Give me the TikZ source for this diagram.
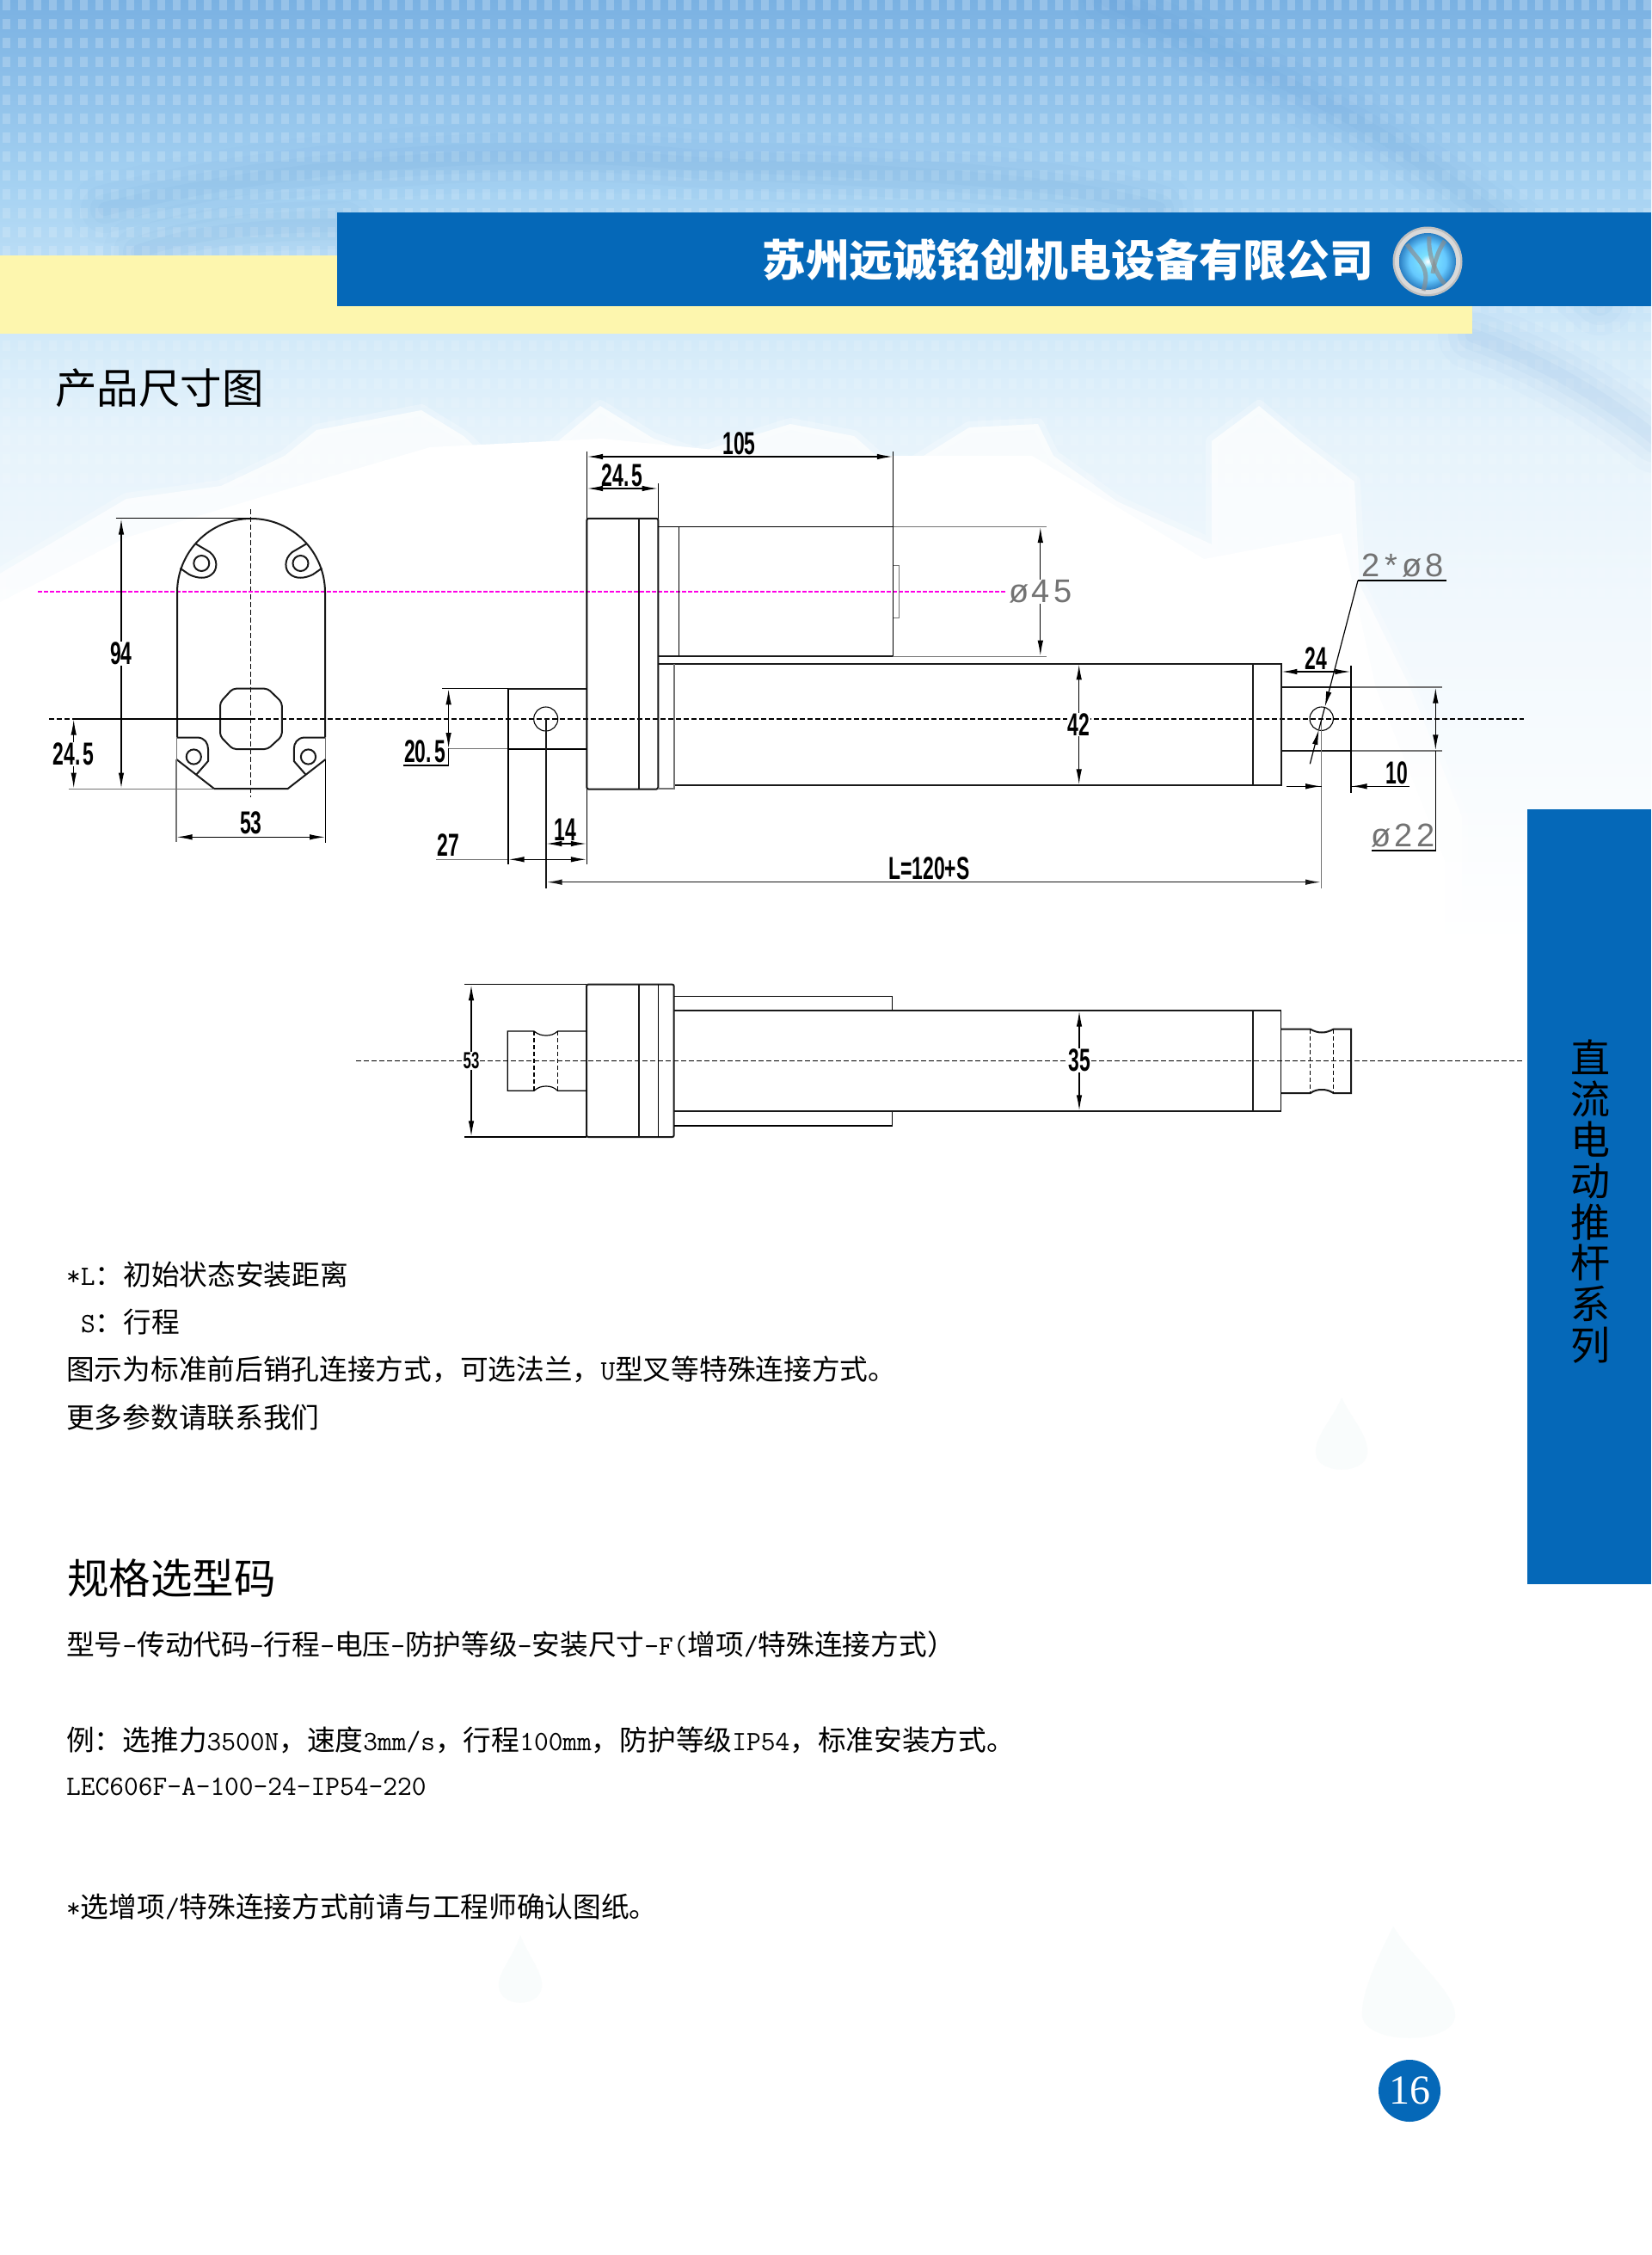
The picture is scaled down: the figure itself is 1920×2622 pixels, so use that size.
\documentclass[tikz,border=0pt]{standalone}
\usepackage{fontspec}
\usepackage{graphicx}
\usetikzlibrary{arrows.meta}
\setmainfont{Noto Sans CJK SC}
\newfontfamily\dimfont{Liberation Sans}
\newfontfamily\thinfont{Liberation Sans}
\newfontfamily\numfont{Liberation Serif}
\definecolor{bar}{HTML}{0568B8}
\definecolor{sun}{HTML}{FDF6AE}
\definecolor{skyA}{HTML}{7AB1E2}
\definecolor{skyB}{HTML}{A6D2F2}
\definecolor{skyC}{HTML}{D3EAF9}
\definecolor{skyD}{HTML}{E6F3FB}
\definecolor{skyE}{HTML}{F1F8FD}
\definecolor{swoosh}{HTML}{4F90D2}
\definecolor{dropc}{HTML}{F9FCFC}
\definecolor{magline}{HTML}{FF00E6}
\pgfdeclareverticalshading{skyfade}{100bp}{color(0bp)=(white); color(25bp)=(white); color(43bp)=(skyE); color(52bp)=(skyD); color(57bp)=(skyC); color(65bp)=(skyB); color(75bp)=(skyA); color(100bp)=(skyA)}
\pgfdeclareradialshading{logoglow}{\pgfpoint{0bp}{0bp}}{color(0bp)=(white); color(6bp)=(white!80!blue!60!cyan); color(16bp)=(blue!35!cyan!60!white); color(25bp)=(bar!85!white); color(50bp)=(bar)}
% text helpers
\newcommand\bodysz{\fontsize{32.7}{38}\selectfont}
\newcommand\hw[1]{{\fontsize{32.5}{38}\ttfamily\selectfont #1}}
\newcommand\dt[2][37]{\scalebox{.62}[1]{\fontsize{#1}{#1}\dimfont\bfseries\selectfont #2}}
\newcommand\cad[1]{{\fontsize{38}{38}\thinfont\selectfont #1}}
% mirrored details of the plate
\newcommand\topboss{\draw[outl] (227,632) -- (244,642) .. controls (254,650) and (253,663) .. (246,668) .. controls (240,673) and (230,673) .. (220,668) -- (209.4,660.7);
 \draw[outl] (234.3,655) circle (9);}
\newcommand\lowboss{\draw[outl] (206,857.5) -- (230,857.5) .. controls (238,858) and (242,864) .. (242,871) -- (242,885) -- (228,901);
 \draw[outl] (225.3,880) circle (8.6);}
\tikzset{
 x=1pt,y=-1pt,
 >={Latex[length=18pt,width=6.5pt]},
 outl/.style={line width=2pt,black!90},
 fine/.style={line width=1.2pt,black},
 faint/.style={line width=1.1pt,black!55},
 centre/.style={line width=1.1pt,black,dash pattern=on 6pt off 3pt},
 dimline/.style={line width=1.2pt,black},
 bodytext/.style={anchor=west,inner sep=0pt,font=\bodysz},
 dimlabel/.style={inner sep=1pt,fill=white},
 headtext/.style={anchor=west,inner sep=0pt,font=\fontsize{48.5}{52}\selectfont},
 drop/.style={fill=dropc}
}
\begin{document}
\begin{tikzpicture}
\useasboundingbox (0,0) rectangle (1920,2622);
\clip (0,0) rectangle (1920,2622);
% ---- background
\fill[white] (0,0) rectangle (1920,2622);
\shade[shading=skyfade] (0,0) rectangle (1920,1100);
\foreach \r in {0,...,31}{
  \pgfmathsetmacro\op{max(0.05,0.22-0.005*\r)}
  \draw[white,opacity=\op,line width=12pt,dash pattern=on 9pt off 9pt]
     (2.5,{6+22*\r}) -- (1920,{6+22*\r});
}
\foreach \w/\o in {80/.025,56/.035,34/.045,16/.05}{
  \draw[swoosh,opacity=\o,line width=\w pt,line cap=round]
    (122,243) .. controls (330,190) and (600,170) .. (800,190) .. controls (1000,200) and (1230,205) .. (1348,243);
  \draw[swoosh,opacity=\o,line width=\w pt,line cap=round]
    (160,293) .. controls (220,270) and (300,262) .. (400,262);
  \draw[swoosh,opacity=\o,line width=\w pt,line cap=round]
    (1287,0) .. controls (1370,40) and (1500,90) .. (1630,173) .. controls (1700,220) and (1780,280) .. (1860,350);
  \draw[swoosh,opacity=\o,line width=\w pt,line cap=round]
    (1712,390) .. controls (1770,410) and (1850,450) .. (1925,510);
}
% white mountains
\path[fill=white,opacity=.72,draw=white,draw opacity=.25,line width=14pt,line join=round]
 (0,667) -- (147,580) -- (257,565) -- (331,530) -- (368,500) -- (490,477) -- (539,507) -- (588,553) -- (637,523) -- (698,472) -- (760,510) -- (809,527) -- (919,493) -- (993,507) -- (1042,550) -- (1127,497) -- (1207,493) -- (1225,530) -- (1299,583) -- (1409,633) -- (1409,513) -- (1464,472) -- (1513,513) -- (1575,560) -- (1581,680) -- (1640,800) -- (1700,950) -- (1700,1110) -- (0,1110) -- cycle;
\fill[white] (0,700) -- (147,625) -- (330,570) -- (500,520) -- (700,510) -- (900,530) -- (1200,530) -- (1400,650) -- (1560,620) -- (1600,800) -- (1680,1000) -- (1680,1120) -- (0,1120) -- cycle;
% faint drops
\fill[drop] (1560,1625) .. controls (1572,1650) and (1592,1670) .. (1590,1690) .. controls (1588,1715) and (1532,1715) .. (1530,1690) .. controls (1528,1670) and (1550,1650) .. (1560,1625) -- cycle;
\fill[drop] (605,2250) .. controls (615,2275) and (632,2295) .. (630,2310) .. controls (628,2335) and (582,2335) .. (580,2310) .. controls (578,2295) and (597,2275) .. (605,2250) -- cycle;
\fill[drop] (1620,2240) .. controls (1645,2280) and (1695,2320) .. (1692,2345) .. controls (1688,2378) and (1590,2378) .. (1584,2345) .. controls (1582,2320) and (1600,2280) .. (1620,2240) -- cycle;
% ---- header
\fill[sun] (0,297) rectangle (1712,388);
\fill[bar] (392,247) rectangle (1920,356);
\node[anchor=west,inner sep=0pt,text=white] (company) at (886,302) {\fontsize{50.8}{52}\bfseries\selectfont 苏州远诚铭创机电设备有限公司};
% logo
\fill[black!25] (1660,304) circle (40.5);
\fill[white!85!black] (1660,304) circle (38);
\shade[shading=logoglow] (1660,304) circle (33);
\draw[black!45,opacity=.65,line width=5pt] (1636,284) .. controls (1650,305) and (1664,310) .. (1655,338);
\draw[black!45,opacity=.65,line width=5pt] (1662,275) .. controls (1660,295) and (1670,320) .. (1680,330);
\draw[black!45,opacity=.65,line width=5pt] (1680,280) .. controls (1672,292) and (1668,305) .. (1666,318);
% ---- headings
\node[headtext] (dimhead) at (64,451) {产品尺寸图};
% ---- sidebar
\fill[bar] (1776,941) rectangle (1920,1842);
\node[inner sep=0pt,align=center,font=\fontsize{46}{47.7}\selectfont] (series) at (1849,1397) {直\\流\\电\\动\\推\\杆\\系\\列};
% ---- centre lines
\draw[centre] (57,836) -- (1772,836);
\draw[centre] (291.9,591.7) -- (291.9,926.7);
\draw[magline,line width=2pt,dash pattern=on 5pt off 2pt] (44,687.7) -- (1168.6,687.7);
% ---- front view
\draw[outl,line join=round] (206,857) -- (206,689) .. controls (206,641.5) and (244,603) .. (292,603) .. controls (340,603) and (378,641.5) .. (378,689) -- (378,857);
\draw[faint] (205.3,857) -- (205.3,883);
\draw[faint] (378.5,857) -- (378.5,883);
\draw[outl] (205.3,883) -- (249,917) -- (334.7,917) -- (378.5,883);
\topboss \lowboss
\begin{scope}[shift={(583.8,0)},xscale=-1]
\topboss \lowboss
\end{scope}
\draw[outl,rounded corners=4pt] (270.6,800.7) -- (311.4,800.7) -- (327.8,816.7) -- (327.8,856) -- (311.4,871) -- (270.6,871) -- (256,856) -- (256,816.7) -- cycle;
% front view dimensions
\draw[fine] (134.7,602.7) -- (291.9,602.7);
\draw[faint] (79.6,917.3) -- (249,917.3);
\draw[fine] (84,836) -- (291.9,836);
\draw[dimline,<->] (141,603.5) -- (141,916.5);
\node[dimlabel] (d94) at (141,760) {\dt{94}};
\draw[dimline,<->] (85.7,836.5) -- (85.7,916.5);
\node[dimlabel] (d245a) at (85.6,876.7) {\dt{24.\hspace{5pt}5}};
\draw[faint] (205,883) -- (205,979);
\draw[fine] (378.5,883) -- (378.5,980);
\draw[dimline,<->] (205.5,973.3) -- (378,973.3);
\node[inner sep=0pt] (d53a) at (291.9,957) {\dt{53}};
% ---- side view
\draw[fine] (591,800.7) rectangle (682.4,871);
\draw[outl] (591,800.7) -- (682.4,800.7);
\draw[line width=1.1pt,black] (634.7,836) circle (14);
\draw[outl] (634.7,836) -- (634.7,1032.7);
\draw[outl,rounded corners=2pt] (682.4,602.9) rectangle (765.3,917.5);
\draw[outl] (742.9,602.9) -- (742.9,917.5);
\draw[fine] (765.3,612.5) -- (1038.4,612.5);
\draw[fine] (789.4,612.5) -- (789.4,763.2);
\draw[outl,line width=1.6pt] (765.3,763.2) -- (1038.4,763.2);
\draw[faint] (1038.4,612.5) -- (1216.7,612.5);
\draw[faint] (1038.4,763.2) -- (1216.7,763.2);
\draw[faint] (1038.4,657.5) -- (1045.3,657.5) -- (1045.3,718.2) -- (1038.4,718.2);
\draw[fine] (1038.4,524.6) -- (1038.4,763.2);
\draw[fine] (682.4,524.6) -- (682.4,1005);
\draw[outl] (765.3,771.8) -- (1489.7,771.8) -- (1489.7,912.8) -- (784,912.8);
\draw[faint,line width=1.5pt] (765.3,916.8) -- (784,916.8) -- (784,771.8);
\draw[outl] (1456.7,771.8) -- (1456.7,912.8);
\draw[outl] (1489.7,799) -- (1571,799);
\draw[outl] (1489.7,873) -- (1571,873);
\draw[faint,line width=1.5pt] (1571,799) -- (1676.7,799);
\draw[faint,line width=1.5pt] (1571,873) -- (1676.7,873);
\draw[line width=1.1pt,black] (1536.7,835.7) circle (13.7);
\draw[faint] (1536.7,835.7) -- (1536.7,1032.7);
\draw[fine] (1571,774) -- (1571,921.7);
% side view dimensions
\draw[dimline,<->] (683,531) -- (1037.8,531);
\node[inner sep=0pt] (d105) at (859.6,516) {\dt{105}};
\draw[dimline,<->] (683,568) -- (764.7,568);
\draw[fine] (765.3,562) -- (765.3,603);
\node[inner sep=0pt] (d245b) at (723.7,553) {\dt{24.\hspace{5pt}5}};
\draw[dimline,<->] (1209.8,613) -- (1209.8,762.6);
\node[dimlabel,text=black!55] (d45) at (1209.8,688) {\cad{ø\hspace{3pt}4\hspace{5pt}5}};
\draw[dimline,<->] (1254.7,772.4) -- (1254.7,912.3);
\node[dimlabel] (d42) at (1254.7,842.5) {\dt{42}};
\draw[fine] (514,800.7) -- (591,800.7);
\draw[faint] (521.6,870.5) -- (591,870.5);
\draw[dimline,<->] (521.6,801.3) -- (521.6,870);
\draw[dimline] (521.6,870) -- (521.6,890) -- (469.4,890);
\node[inner sep=0pt] (d205) at (494,874) {\dt{20.\hspace{5pt}5}};
\draw[faint] (507,999.3) -- (591,999.3);
\draw[fine] (591,870) -- (591,1005);
\draw[dimline,<->] (591.5,999.3) -- (681.8,999.3);
\node[inner sep=0pt] (d27) at (521,983) {\dt{27}};
\draw[dimline,<->] (635.3,981) -- (681.8,981);
\node[inner sep=0pt] (d14) at (657.6,965) {\dt{14}};
\draw[outl,line width=1.5pt,<->] (635.5,1025.7) -- (1536,1025.7);
\node[inner sep=0pt] (dL) at (1080.4,1009.6) {\dt{L=120+S}};
\draw[dimline,<->] (1490.3,781) -- (1570.4,781);
\node[inner sep=0pt] (d24) at (1530,765.3) {\dt{24}};
\draw[dimline] (1496,914.3) -- (1536.7,914.3);
\draw[dimline,->] (1518,914.3) -- (1536.2,914.3);
\draw[dimline] (1571,914.3) -- (1639,914.3);
\draw[dimline,->] (1600,914.3) -- (1571.5,914.3);
\node[inner sep=0pt] (d10) at (1624.5,898.3) {\dt{10}};
\draw[dimline] (1682,675) -- (1579,675);
\draw[dimline,->] (1579,675) -- (1540.6,822);
\draw[dimline] (1540.6,822) -- (1533.7,848);
\draw[dimline,->] (1523.3,888.3) -- (1533.7,848);
\node[inner sep=0pt,text=black!55] (d28) at (1631,658) {\cad{2\hspace{6pt}*\hspace{5pt}ø\hspace{4pt}8}};
\draw[dimline,<->] (1669.3,799.6) -- (1669.3,872.4);
\draw[dimline] (1669.3,873) -- (1669.3,989) -- (1595,989);
\node[inner sep=0pt,text=black!55] (d22) at (1631.7,972) {\cad{ø\hspace{4pt}2\hspace{5pt}2}};
% ---- lower view
\draw[centre] (414,1233.7) -- (1771,1233.7);
\draw[outl,rounded corners=2pt] (682,1144.7) rectangle (783.7,1322);
\draw[outl] (742.9,1144.7) -- (742.9,1322);
\draw[fine] (765.3,1144.7) -- (765.3,1322);
\draw[fine] (540.3,1144.7) -- (682,1144.7);
\draw[fine] (540.3,1322) -- (682,1322);
\draw[dimline,<->] (548,1145.3) -- (548,1321.4);
\node[dimlabel] (d53b) at (548,1233.3) {\dt[27]{53}};
\draw[fine] (682,1199) -- (648.5,1199) .. controls (644,1203) and (640,1204) .. (635,1204) .. controls (630,1204) and (626,1203) .. (621,1199) -- (590.3,1199) -- (590.3,1268.3) -- (621,1268.3) .. controls (626,1264) and (630,1263) .. (635,1263) .. controls (640,1263) and (644,1264) .. (648.5,1268.3) -- (682,1268.3);
\draw[fine,dash pattern=on 5pt off 3pt] (621,1199) -- (621,1268.3);
\draw[fine,dash pattern=on 5pt off 3pt] (648.5,1199) -- (648.5,1268.3);
\draw[fine] (783.7,1158.3) -- (1037.8,1158.3) -- (1037.8,1175);
\draw[fine] (783.7,1309) -- (1037.8,1309) -- (1037.8,1292);
\draw[outl] (783.7,1175) -- (1489.7,1175);
\draw[outl] (783.7,1292) -- (1489.7,1292);
\draw[fine,line width=1.5pt] (1489.7,1175) -- (1489.7,1292);
\draw[outl] (1457,1175) -- (1457,1292);
\draw[dimline,<->] (1255,1175.6) -- (1255,1291.4);
\node[dimlabel] (d35) at (1255,1233) {\dt{35}};
\draw[outl] (1489.7,1196.7) -- (1523.8,1196.7) .. controls (1528,1199) and (1532,1200.5) .. (1537,1200.5) .. controls (1542,1200.5) and (1546,1199) .. (1550.6,1196.7) -- (1571.2,1196.7) -- (1571.2,1271) -- (1550.6,1271) .. controls (1546,1268) and (1542,1267) .. (1537,1267) .. controls (1532,1267) and (1528,1268) .. (1523.8,1271) -- (1489.7,1271);
\draw[fine,dash pattern=on 5pt off 3pt] (1523.8,1196.7) -- (1523.8,1271);
\draw[fine,dash pattern=on 5pt off 3pt] (1550.6,1196.7) -- (1550.6,1271);
% ---- body text
\node[bodytext] (t1) at (77,1482) {\hw{*L}：初始状态安装距离};
\node[bodytext] (t2) at (94,1537) {\hw{S}：行程};
\node[bodytext] (t3) at (77,1592) {图示为标准前后销孔连接方式，可选法兰，\hw{U}型叉等特殊连接方式。};
\node[bodytext] (t4) at (77,1648) {更多参数请联系我们};
\node[headtext] (spechead) at (78,1835) {规格选型码};
\node[bodytext] (t5) at (77,1912) {型号\hw{-}传动代码\hw{-}行程\hw{-}电压\hw{-}防护等级\hw{-}安装尺寸\hw{-F(}增项\hw{/}特殊连接方式）};
\node[bodytext] (t6) at (77,2023) {例：选推力\hw{3500N}，速度\hw{3mm/s}，行程\hw{100mm}，防护等级\hw{IP54}，标准安装方式。};
\node[bodytext] (t7) at (77,2078) {\hw{LEC606F-A-100-24-IP54-220}};
\node[bodytext] (t8) at (77,2217) {\hw{*}选增项\hw{/}特殊连接方式前请与工程师确认图纸。};
% ---- page number
\fill[bar] (1639,2431) circle (36);
\node[inner sep=0pt,text=white] (pageno) at (1639,2431) {\fontsize{48}{48}\numfont\selectfont 16};
\end{tikzpicture}
\end{document}
